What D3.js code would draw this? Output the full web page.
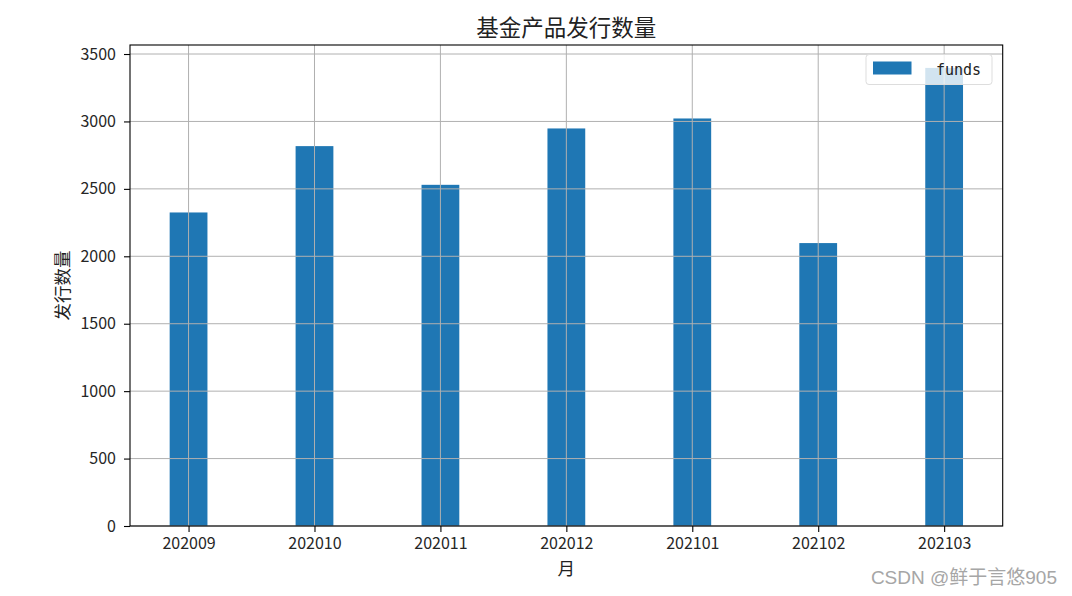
<!DOCTYPE html>
<html><head><meta charset="utf-8">
<script src="https://cdn.jsdelivr.net/npm/d3@7"></script>
<style>body{margin:0;background:#fff}svg{display:block}</style>
</head><body>
<script>
const categories = ["202009","202010","202011","202012","202101","202102","202103"];
const funds = [2325, 2817, 2530, 2948, 3022, 2098, 3397];
const yTicks = [0,500,1000,1500,2000,2500,3000,3500];
const seriesName = "funds";
const title = "基金产品发行数量";
const xLabel = "月";
const yLabel = "发行数量";
const watermark = "CSDN @鲜于言悠905";

const W=1072,H=596;
const L=130,R=1002.7,T=45,B=526;
const barW=0.3;
const CJK='"Noto Sans CJK SC", sans-serif';
const svg=d3.select("body").append("svg").attr("width",W).attr("height",H);
const x=d3.scaleLinear().domain([-0.465,categories.length-1+0.465]).range([L,R]);
const y=d3.scaleLinear().domain([0,d3.max(funds)*1.05]).range([B,T]);
const bw=x(barW)-x(0);

svg.selectAll("rect.bar").data(funds).join("rect").attr("class","bar")
 .attr("x",(d,i)=>x(i)-bw/2).attr("width",bw)
 .attr("y",d=>y(d)).attr("height",d=>B-y(d)).attr("fill","#1f77b4");

// grid
const g=svg.append("g");
g.selectAll("line.h").data(yTicks).join("line")
 .attr("x1",L).attr("x2",R).attr("y1",d=>y(d)).attr("y2",d=>y(d))
 .attr("stroke","#b0b0b0").attr("stroke-width",1);
g.selectAll("line.v").data(categories).join("line")
 .attr("x1",(d,i)=>x(i)).attr("x2",(d,i)=>x(i)).attr("y1",T).attr("y2",B)
 .attr("stroke","#b0b0b0").attr("stroke-width",1);

// axes
const xa=d3.axisBottom(x).tickValues(d3.range(categories.length)).tickFormat(i=>categories[i]).tickSize(6).tickPadding(6);
const ya=d3.axisLeft(y).tickValues(yTicks).tickFormat(d3.format("d")).tickSize(6).tickPadding(8);
const gx=svg.append("g").attr("transform",`translate(0,${B})`).call(xa);
const gy=svg.append("g").attr("transform",`translate(${L},0)`).call(ya);
[gx,gy].forEach(a=>{a.select(".domain").remove();a.selectAll("text").style("font-size","16px").style("font-family",CJK).attr("fill","#262626");a.selectAll("line").attr("stroke","#000").attr("stroke-width",1.1);});
svg.append("rect").attr("x",L).attr("y",T).attr("width",R-L).attr("height",B-T).attr("fill","none").attr("stroke","#000").attr("stroke-width",1.1);

// legend
const lg=svg.append("g");
lg.append("rect").attr("x",866).attr("y",54.5).attr("width",126).attr("height",30).attr("rx",3)
 .attr("fill","#fff").attr("fill-opacity",0.8).attr("stroke","#ddd").attr("stroke-width",1);
lg.append("rect").attr("x",873).attr("y",61.5).attr("width",38.5).attr("height",13).attr("fill","#1f77b4");
lg.append("text").attr("x",936).attr("y",74.5).style("font-size","15px").attr("fill","#222")
 .style("font-family",'"DejaVu Sans Mono", monospace').text(seriesName);

// titles
svg.append("text").attr("x",(L+R)/2).attr("y",36).attr("text-anchor","middle").style("font-size","22.5px").style("font-family",CJK).attr("fill","#222").text(title);
svg.append("text").attr("x",(L+R)/2).attr("y",575).attr("text-anchor","middle").style("font-size","17.5px").style("font-family",CJK).attr("fill","#222").text(xLabel);
svg.append("text").attr("transform",`translate(69,${(T+B)/2}) rotate(-90)`).attr("text-anchor","middle").style("font-size","17.5px").style("font-family",CJK).attr("fill","#222").text(yLabel);
svg.append("text").attr("x",1057).attr("y",584).attr("text-anchor","end").style("font-size","19px").style("font-family",'"Liberation Sans","Noto Sans CJK SC",sans-serif').attr("fill","#a6a6a6").text(watermark);
</script>
</body></html>
